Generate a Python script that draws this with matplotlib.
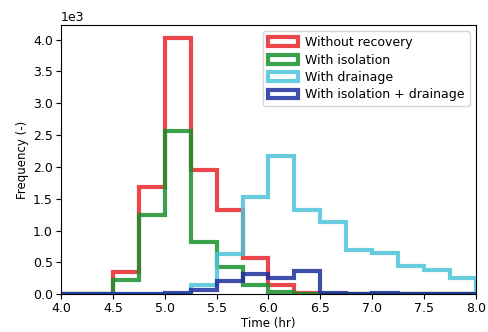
import numpy as np
import matplotlib
matplotlib.use("Agg")
import matplotlib.pyplot as plt

# bin edges (hr) and counts
bin_edges = np.arange(4.0, 8.01, 0.25)
no_recovery = [0, 0, 350, 1680, 4030, 1950, 1320, 570, 140, 20, 0, 0, 0, 0, 0, 0]
isolation = [0, 0, 230, 1240, 2560, 820, 430, 150, 40, 10, 0, 0, 0, 0, 0, 0]
drainage = [0, 0, 0, 0, 10, 150, 630, 1520, 2170, 1330, 1130, 690, 650, 450, 380, 260]
iso_drain = [0, 0, 0, 0, 20, 70, 200, 320, 250, 360, 20, 10, 20, 10, 5, 5]

labels = ['Without recovery', 'With isolation', 'With drainage', 'With isolation + drainage']
colors = ['#e8262b', '#19912c', '#4cc4d8', '#1c2f9c']

centers = bin_edges[:-1] + 0.125

fig = plt.figure(figsize=(4.89, 3.32), dpi=100)
ax = fig.add_axes([0.125, 0.114, 0.848, 0.811])
for vals, lab, c in zip([no_recovery, isolation, drainage, iso_drain], labels, colors):
    ax.hist(centers, bins=bin_edges, weights=vals, histtype='step',
            color=c, alpha=0.85, linewidth=3, label=lab)

ax.set_xlim(4.0, 8.0)
ax.set_xticks(np.arange(4.0, 8.01, 0.5))
ax.ticklabel_format(axis='y', style='sci', scilimits=(3, 3))
ax.set_xlabel('Time (hr)', fontsize=8.5, labelpad=1)
ax.set_ylabel('Frequency (-)', fontsize=8.5, labelpad=3)
ax.tick_params(labelsize=9, pad=2.5)
ax.yaxis.get_offset_text().set_fontsize(9)
ax.legend(loc='upper right', fontsize=9, handlelength=2.4, borderaxespad=0.5,
          labelspacing=0.35, handletextpad=0.6)

fig.savefig('out.png', dpi=100)
